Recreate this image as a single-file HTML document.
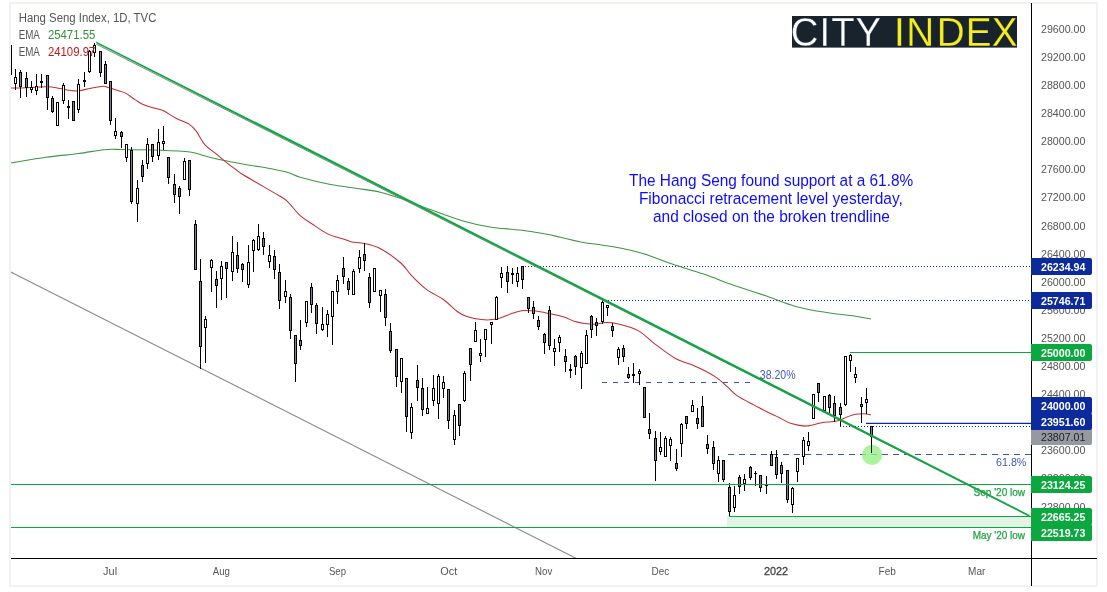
<!DOCTYPE html>
<html><head><meta charset="utf-8"><title>Hang Seng Index chart</title>
<style>html,body{margin:0;padding:0;background:#fff}svg{display:block}</style></head>
<body>
<svg width="1107" height="592" viewBox="0 0 1107 592" font-family='"Liberation Sans", sans-serif'>
<defs><clipPath id="cp"><rect x="11" y="4" width="1020" height="554"/></clipPath></defs>
<rect x="0" y="0" width="1107" height="592" fill="#fff"/>
<rect x="10" y="3" width="1087" height="583" fill="#fff" stroke="#f0f2f8" stroke-width="2"/>
<g clip-path="url(#cp)">
<line x1="10.5" y1="271.8" x2="578" y2="559.3" stroke="#8a8a8a" stroke-width="1.1"/>
<rect x="727" y="516" width="303.5" height="11.5" fill="#e2f4e6"/>
<line x1="601.9" y1="382.5" x2="750.5" y2="382.5" stroke="#3a55ba" stroke-width="1" stroke-dasharray="5.4 5.6" shape-rendering="crispEdges"/>
<line x1="728.3" y1="454.5" x2="1031" y2="454.5" stroke="#3a55ba" stroke-width="1" stroke-dasharray="5.4 5.6" shape-rendering="crispEdges"/>
<circle cx="872.1" cy="454.9" r="10.1" fill="#93f082" fill-opacity="0.78"/>
<line x1="522" y1="266.5" x2="1031" y2="266.5" stroke="#0c2a9b" stroke-width="1" stroke-dasharray="1 2" shape-rendering="crispEdges"/>
<line x1="602" y1="300.5" x2="1031" y2="300.5" stroke="#0c2a9b" stroke-width="1" stroke-dasharray="1 2" shape-rendering="crispEdges"/>
<line x1="840" y1="426.5" x2="1031" y2="426.5" stroke="#0c2a9b" stroke-width="1" stroke-dasharray="1 2" shape-rendering="crispEdges"/>
<line x1="866" y1="423.4" x2="1031" y2="423.4" stroke="#0c2a9b" stroke-width="1.3"/>
<path d="M10.5,162.9 C16.4,162.0 34.5,158.9 45.9,157.3 C57.3,155.7 69.1,154.8 78.8,153.5 C88.5,152.2 96.9,150.4 104.1,149.7 C111.3,149.0 112.5,149.4 121.8,149.5 C131.1,149.6 148.3,149.8 159.7,150.2 C171.1,150.6 182.5,151.0 190.1,152.0 C197.7,153.0 199.8,154.6 205.3,156.0 C210.8,157.4 215.8,158.8 223.0,160.3 C230.2,161.8 239.9,163.4 248.3,164.9 C256.7,166.4 267.0,167.9 273.6,169.2 C280.2,170.5 283.6,171.2 288.0,172.5 C292.4,173.8 293.1,175.2 300.2,177.2 C307.3,179.2 321.3,182.7 330.6,184.5 C339.9,186.3 347.5,187.0 355.9,188.3 C364.3,189.6 372.8,190.4 381.2,192.4 C389.6,194.4 398.1,197.6 406.5,200.5 C414.9,203.4 422.4,206.7 431.7,210.1 C441.0,213.5 452.4,217.9 462.1,220.7 C471.8,223.5 480.2,225.4 489.9,227.0 C499.6,228.6 511.0,228.9 520.3,230.1 C529.6,231.3 539.0,232.9 545.6,234.1 C552.2,235.3 554.1,235.8 560.0,237.1 C565.9,238.4 572.1,240.3 580.7,241.9 C589.3,243.5 601.2,244.6 611.4,246.5 C621.6,248.4 631.9,250.3 642.1,253.3 C652.4,256.3 662.6,260.8 672.9,264.3 C683.1,267.8 693.4,270.6 703.6,274.1 C713.8,277.6 724.1,281.9 734.3,285.5 C744.5,289.1 754.8,292.1 765.0,295.6 C775.2,299.1 785.5,303.6 795.7,306.4 C805.9,309.2 816.2,310.8 826.4,312.5 C836.6,314.2 849.7,315.4 857.1,316.5 C864.5,317.6 868.7,318.6 871.0,319.0" fill="none" stroke="#3d9743" stroke-width="1.05"/>
<path d="M11.0,88.0 C12.5,88.0 13.9,88.2 20.0,88.0 C26.1,87.8 40.8,86.6 47.5,86.7 C54.2,86.8 55.3,87.8 60.0,88.5 C64.7,89.2 70.6,90.9 75.6,90.9 C80.6,90.9 85.5,89.3 90.0,88.5 C94.5,87.7 99.6,86.4 102.6,86.2 C105.6,86.0 105.8,86.9 108.0,87.5 C110.2,88.1 113.2,89.0 116.0,89.9 C118.8,90.8 121.8,91.3 125.0,92.9 C128.2,94.5 132.2,97.8 135.0,99.6 C137.8,101.4 139.2,102.6 142.0,103.9 C144.8,105.2 148.5,106.5 152.0,107.6 C155.5,108.7 159.0,108.8 163.0,110.6 C167.0,112.4 171.7,116.0 176.0,118.2 C180.3,120.5 185.7,122.0 189.0,124.1 C192.3,126.2 193.3,127.4 196.0,130.9 C198.7,134.4 201.8,141.2 205.0,144.9 C208.2,148.6 211.7,150.2 215.0,152.9 C218.3,155.6 221.7,158.6 225.0,161.3 C228.3,164.0 231.8,166.6 235.0,168.9 C238.2,171.2 236.5,170.8 244.0,175.3 C251.5,179.9 272.7,191.8 280.0,196.2 C287.3,200.6 284.2,198.5 287.6,201.7 C291.0,204.9 296.0,211.8 300.2,215.6 C304.4,219.4 308.2,221.4 312.9,224.5 C317.5,227.6 323.1,231.7 328.1,234.1 C333.2,236.5 339.2,237.6 343.2,238.9 C347.1,240.2 348.2,241.1 351.8,241.9 C355.4,242.7 359.7,242.5 364.5,243.6 C369.3,244.7 374.4,245.5 380.5,248.7 C386.6,251.9 395.7,258.6 400.8,263.0 C405.9,267.4 406.7,270.5 410.9,274.9 C415.1,279.3 420.8,285.1 426.1,289.2 C431.5,293.3 437.7,295.5 443.0,299.3 C448.3,303.1 454.1,309.2 458.0,312.0 C461.9,314.8 462.2,314.9 466.1,316.2 C470.0,317.5 476.2,319.1 481.3,319.6 C486.4,320.1 491.4,320.1 496.5,319.1 C501.6,318.1 507.2,315.0 511.7,313.6 C516.2,312.2 519.6,311.0 523.6,310.6 C527.6,310.2 531.2,310.6 535.4,311.1 C539.6,311.6 544.1,312.6 548.9,313.6 C553.7,314.6 559.9,315.7 564.1,317.0 C568.3,318.3 570.8,320.2 574.2,321.3 C577.6,322.4 580.8,322.9 584.4,323.4 C588.0,323.9 592.4,324.3 596.0,324.2 C599.6,324.1 602.4,322.6 606.1,322.5 C609.8,322.4 612.6,322.5 618.0,323.9 C623.4,325.2 632.0,327.2 638.2,330.6 C644.4,334.0 648.9,339.5 655.1,344.1 C661.3,348.8 669.2,355.0 675.4,358.5 C681.6,362.0 687.2,362.8 692.3,364.9 C697.4,367.0 701.6,369.0 705.8,371.2 C710.0,373.4 713.9,375.6 717.6,378.3 C721.3,381.0 724.5,384.3 727.8,387.2 C731.1,390.1 733.0,392.9 737.4,395.9 C741.8,398.9 749.1,402.4 754.2,405.1 C759.3,407.8 763.6,410.2 767.8,412.3 C772.0,414.4 775.6,415.8 779.5,417.7 C783.4,419.6 786.8,422.2 791.3,423.6 C795.8,425.0 801.4,426.2 806.5,426.1 C811.6,426.0 816.6,423.6 821.7,422.8 C826.8,422.0 832.7,422.1 836.9,421.1 C841.1,420.1 844.0,418.0 847.1,416.9 C850.2,415.8 852.7,414.8 855.5,414.3 C858.3,413.8 861.4,413.7 864.0,413.8 C866.6,413.9 869.9,414.6 871.1,414.7" fill="none" stroke="#c12f2f" stroke-width="1.05"/>
<g shape-rendering="crispEdges">
<rect x="10" y="45" width="1" height="32" fill="#000"/>
<rect x="9" y="45" width="3" height="30" fill="#000"/>
<rect x="10" y="46" width="1" height="28" fill="#80838f"/>
<rect x="15" y="69" width="1" height="21" fill="#000"/>
<rect x="14" y="77" width="3" height="7" fill="#000"/>
<rect x="15" y="78" width="1" height="5" fill="#fff"/>
<rect x="20" y="70" width="1" height="28" fill="#000"/>
<rect x="19" y="72" width="3" height="15" fill="#000"/>
<rect x="20" y="73" width="1" height="13" fill="#80838f"/>
<rect x="26" y="72" width="1" height="25" fill="#000"/>
<rect x="25" y="78" width="3" height="10" fill="#000"/>
<rect x="26" y="79" width="1" height="8" fill="#80838f"/>
<rect x="31" y="81" width="1" height="12" fill="#000"/>
<rect x="30" y="87" width="3" height="3" fill="#000"/>
<rect x="31" y="88" width="1" height="1" fill="#fff"/>
<rect x="36" y="74" width="1" height="21" fill="#000"/>
<rect x="35" y="86" width="3" height="5" fill="#000"/>
<rect x="36" y="87" width="1" height="3" fill="#fff"/>
<rect x="41" y="74" width="1" height="14" fill="#000"/>
<rect x="40" y="81" width="3" height="2" fill="#000"/>
<rect x="47" y="75" width="1" height="35" fill="#000"/>
<rect x="46" y="75" width="3" height="23" fill="#000"/>
<rect x="47" y="76" width="1" height="21" fill="#80838f"/>
<rect x="52" y="96" width="1" height="17" fill="#000"/>
<rect x="51" y="98" width="3" height="14" fill="#000"/>
<rect x="52" y="99" width="1" height="12" fill="#80838f"/>
<rect x="57" y="102" width="1" height="24" fill="#000"/>
<rect x="56" y="102" width="3" height="24" fill="#000"/>
<rect x="57" y="103" width="1" height="22" fill="#fff"/>
<rect x="63" y="83" width="1" height="21" fill="#000"/>
<rect x="62" y="85" width="3" height="16" fill="#000"/>
<rect x="63" y="86" width="1" height="14" fill="#fff"/>
<rect x="68" y="100" width="1" height="19" fill="#000"/>
<rect x="67" y="106" width="3" height="2" fill="#000"/>
<rect x="73" y="101" width="1" height="20" fill="#000"/>
<rect x="72" y="101" width="3" height="20" fill="#000"/>
<rect x="73" y="102" width="1" height="18" fill="#80838f"/>
<rect x="78" y="79" width="1" height="34" fill="#000"/>
<rect x="77" y="84" width="3" height="26" fill="#000"/>
<rect x="78" y="85" width="1" height="24" fill="#fff"/>
<rect x="84" y="72" width="1" height="15" fill="#000"/>
<rect x="83" y="80" width="3" height="2" fill="#000"/>
<rect x="89" y="50" width="1" height="23" fill="#000"/>
<rect x="88" y="51" width="3" height="21" fill="#000"/>
<rect x="89" y="52" width="1" height="19" fill="#fff"/>
<rect x="94" y="43" width="1" height="14" fill="#000"/>
<rect x="93" y="45" width="3" height="8" fill="#000"/>
<rect x="94" y="46" width="1" height="6" fill="#fff"/>
<rect x="100" y="51" width="1" height="26" fill="#000"/>
<rect x="99" y="51" width="3" height="22" fill="#000"/>
<rect x="100" y="52" width="1" height="20" fill="#80838f"/>
<rect x="105" y="61" width="1" height="23" fill="#000"/>
<rect x="104" y="64" width="3" height="20" fill="#000"/>
<rect x="105" y="65" width="1" height="18" fill="#80838f"/>
<rect x="110" y="81" width="1" height="44" fill="#000"/>
<rect x="109" y="81" width="3" height="40" fill="#000"/>
<rect x="110" y="82" width="1" height="38" fill="#80838f"/>
<rect x="115" y="118" width="1" height="21" fill="#000"/>
<rect x="114" y="131" width="3" height="5" fill="#000"/>
<rect x="115" y="132" width="1" height="3" fill="#fff"/>
<rect x="121" y="131" width="1" height="17" fill="#000"/>
<rect x="120" y="132" width="3" height="5" fill="#000"/>
<rect x="121" y="133" width="1" height="3" fill="#80838f"/>
<rect x="126" y="144" width="1" height="18" fill="#000"/>
<rect x="125" y="144" width="3" height="14" fill="#000"/>
<rect x="126" y="145" width="1" height="12" fill="#fff"/>
<rect x="131" y="147" width="1" height="57" fill="#000"/>
<rect x="130" y="150" width="3" height="52" fill="#000"/>
<rect x="131" y="151" width="1" height="50" fill="#80838f"/>
<rect x="137" y="180" width="1" height="42" fill="#000"/>
<rect x="136" y="188" width="3" height="16" fill="#000"/>
<rect x="137" y="189" width="1" height="14" fill="#fff"/>
<rect x="142" y="160" width="1" height="22" fill="#000"/>
<rect x="141" y="165" width="3" height="12" fill="#000"/>
<rect x="142" y="166" width="1" height="10" fill="#80838f"/>
<rect x="147" y="138" width="1" height="31" fill="#000"/>
<rect x="146" y="144" width="3" height="20" fill="#000"/>
<rect x="147" y="145" width="1" height="18" fill="#fff"/>
<rect x="152" y="144" width="1" height="18" fill="#000"/>
<rect x="151" y="144" width="3" height="13" fill="#000"/>
<rect x="152" y="145" width="1" height="11" fill="#80838f"/>
<rect x="158" y="129" width="1" height="31" fill="#000"/>
<rect x="157" y="142" width="3" height="14" fill="#000"/>
<rect x="158" y="143" width="1" height="12" fill="#fff"/>
<rect x="163" y="126" width="1" height="24" fill="#000"/>
<rect x="162" y="141" width="3" height="3" fill="#000"/>
<rect x="163" y="142" width="1" height="1" fill="#fff"/>
<rect x="168" y="157" width="1" height="27" fill="#000"/>
<rect x="167" y="157" width="3" height="21" fill="#000"/>
<rect x="168" y="158" width="1" height="19" fill="#80838f"/>
<rect x="174" y="174" width="1" height="29" fill="#000"/>
<rect x="173" y="184" width="3" height="11" fill="#000"/>
<rect x="174" y="185" width="1" height="9" fill="#80838f"/>
<rect x="179" y="186" width="1" height="28" fill="#000"/>
<rect x="178" y="188" width="3" height="9" fill="#000"/>
<rect x="179" y="189" width="1" height="7" fill="#80838f"/>
<rect x="184" y="158" width="1" height="22" fill="#000"/>
<rect x="183" y="161" width="3" height="19" fill="#000"/>
<rect x="184" y="162" width="1" height="17" fill="#fff"/>
<rect x="189" y="160" width="1" height="36" fill="#000"/>
<rect x="188" y="160" width="3" height="30" fill="#000"/>
<rect x="189" y="161" width="1" height="28" fill="#80838f"/>
<rect x="195" y="220" width="1" height="50" fill="#000"/>
<rect x="194" y="224" width="3" height="46" fill="#000"/>
<rect x="195" y="225" width="1" height="44" fill="#80838f"/>
<rect x="200" y="259" width="1" height="110" fill="#000"/>
<rect x="199" y="281" width="3" height="66" fill="#000"/>
<rect x="200" y="282" width="1" height="64" fill="#80838f"/>
<rect x="205" y="316" width="1" height="47" fill="#000"/>
<rect x="204" y="319" width="3" height="9" fill="#000"/>
<rect x="205" y="320" width="1" height="7" fill="#fff"/>
<rect x="211" y="259" width="1" height="33" fill="#000"/>
<rect x="210" y="260" width="3" height="8" fill="#000"/>
<rect x="211" y="261" width="1" height="6" fill="#fff"/>
<rect x="216" y="271" width="1" height="37" fill="#000"/>
<rect x="215" y="279" width="3" height="7" fill="#000"/>
<rect x="216" y="280" width="1" height="5" fill="#80838f"/>
<rect x="221" y="261" width="1" height="39" fill="#000"/>
<rect x="220" y="266" width="3" height="13" fill="#000"/>
<rect x="221" y="267" width="1" height="11" fill="#fff"/>
<rect x="226" y="262" width="1" height="36" fill="#000"/>
<rect x="225" y="262" width="3" height="7" fill="#000"/>
<rect x="226" y="263" width="1" height="5" fill="#80838f"/>
<rect x="232" y="236" width="1" height="45" fill="#000"/>
<rect x="231" y="252" width="3" height="20" fill="#000"/>
<rect x="232" y="253" width="1" height="18" fill="#fff"/>
<rect x="237" y="242" width="1" height="31" fill="#000"/>
<rect x="236" y="255" width="3" height="14" fill="#000"/>
<rect x="237" y="256" width="1" height="12" fill="#80838f"/>
<rect x="242" y="263" width="1" height="19" fill="#000"/>
<rect x="241" y="264" width="3" height="6" fill="#000"/>
<rect x="242" y="265" width="1" height="4" fill="#80838f"/>
<rect x="248" y="245" width="1" height="43" fill="#000"/>
<rect x="247" y="262" width="3" height="23" fill="#000"/>
<rect x="248" y="263" width="1" height="21" fill="#fff"/>
<rect x="253" y="239" width="1" height="33" fill="#000"/>
<rect x="252" y="240" width="3" height="11" fill="#000"/>
<rect x="253" y="241" width="1" height="9" fill="#fff"/>
<rect x="258" y="224" width="1" height="27" fill="#000"/>
<rect x="257" y="236" width="3" height="14" fill="#000"/>
<rect x="258" y="237" width="1" height="12" fill="#fff"/>
<rect x="263" y="232" width="1" height="23" fill="#000"/>
<rect x="262" y="238" width="3" height="9" fill="#000"/>
<rect x="263" y="239" width="1" height="7" fill="#80838f"/>
<rect x="269" y="245" width="1" height="23" fill="#000"/>
<rect x="268" y="255" width="3" height="7" fill="#000"/>
<rect x="269" y="256" width="1" height="5" fill="#fff"/>
<rect x="274" y="250" width="1" height="29" fill="#000"/>
<rect x="273" y="256" width="3" height="14" fill="#000"/>
<rect x="274" y="257" width="1" height="12" fill="#80838f"/>
<rect x="279" y="264" width="1" height="45" fill="#000"/>
<rect x="278" y="272" width="3" height="29" fill="#000"/>
<rect x="279" y="273" width="1" height="27" fill="#80838f"/>
<rect x="285" y="280" width="1" height="23" fill="#000"/>
<rect x="284" y="291" width="3" height="6" fill="#000"/>
<rect x="285" y="292" width="1" height="4" fill="#fff"/>
<rect x="290" y="294" width="1" height="45" fill="#000"/>
<rect x="289" y="297" width="3" height="34" fill="#000"/>
<rect x="290" y="298" width="1" height="32" fill="#80838f"/>
<rect x="295" y="335" width="1" height="47" fill="#000"/>
<rect x="294" y="335" width="3" height="29" fill="#000"/>
<rect x="295" y="336" width="1" height="27" fill="#80838f"/>
<rect x="300" y="320" width="1" height="30" fill="#000"/>
<rect x="299" y="340" width="3" height="6" fill="#000"/>
<rect x="300" y="341" width="1" height="4" fill="#80838f"/>
<rect x="306" y="301" width="1" height="26" fill="#000"/>
<rect x="305" y="301" width="3" height="22" fill="#000"/>
<rect x="306" y="302" width="1" height="20" fill="#fff"/>
<rect x="311" y="283" width="1" height="30" fill="#000"/>
<rect x="310" y="287" width="3" height="18" fill="#000"/>
<rect x="311" y="288" width="1" height="16" fill="#80838f"/>
<rect x="316" y="303" width="1" height="31" fill="#000"/>
<rect x="315" y="305" width="3" height="19" fill="#000"/>
<rect x="316" y="306" width="1" height="17" fill="#80838f"/>
<rect x="322" y="307" width="1" height="24" fill="#000"/>
<rect x="321" y="324" width="3" height="6" fill="#000"/>
<rect x="322" y="325" width="1" height="4" fill="#fff"/>
<rect x="327" y="310" width="1" height="27" fill="#000"/>
<rect x="326" y="314" width="3" height="11" fill="#000"/>
<rect x="327" y="315" width="1" height="9" fill="#fff"/>
<rect x="332" y="291" width="1" height="54" fill="#000"/>
<rect x="331" y="291" width="3" height="26" fill="#000"/>
<rect x="332" y="292" width="1" height="24" fill="#fff"/>
<rect x="337" y="275" width="1" height="29" fill="#000"/>
<rect x="336" y="280" width="3" height="12" fill="#000"/>
<rect x="337" y="281" width="1" height="10" fill="#fff"/>
<rect x="343" y="257" width="1" height="27" fill="#000"/>
<rect x="342" y="268" width="3" height="9" fill="#000"/>
<rect x="343" y="269" width="1" height="7" fill="#80838f"/>
<rect x="348" y="278" width="1" height="17" fill="#000"/>
<rect x="347" y="281" width="3" height="9" fill="#000"/>
<rect x="348" y="282" width="1" height="7" fill="#80838f"/>
<rect x="353" y="269" width="1" height="26" fill="#000"/>
<rect x="352" y="271" width="3" height="24" fill="#000"/>
<rect x="353" y="272" width="1" height="22" fill="#fff"/>
<rect x="359" y="250" width="1" height="23" fill="#000"/>
<rect x="358" y="257" width="3" height="12" fill="#000"/>
<rect x="359" y="258" width="1" height="10" fill="#fff"/>
<rect x="364" y="243" width="1" height="28" fill="#000"/>
<rect x="363" y="254" width="3" height="7" fill="#000"/>
<rect x="364" y="255" width="1" height="5" fill="#80838f"/>
<rect x="369" y="273" width="1" height="35" fill="#000"/>
<rect x="368" y="277" width="3" height="26" fill="#000"/>
<rect x="369" y="278" width="1" height="24" fill="#80838f"/>
<rect x="374" y="268" width="1" height="24" fill="#000"/>
<rect x="373" y="268" width="3" height="24" fill="#000"/>
<rect x="374" y="269" width="1" height="22" fill="#fff"/>
<rect x="380" y="290" width="1" height="22" fill="#000"/>
<rect x="379" y="290" width="3" height="6" fill="#000"/>
<rect x="380" y="291" width="1" height="4" fill="#fff"/>
<rect x="385" y="289" width="1" height="37" fill="#000"/>
<rect x="384" y="294" width="3" height="24" fill="#000"/>
<rect x="385" y="295" width="1" height="22" fill="#80838f"/>
<rect x="390" y="323" width="1" height="30" fill="#000"/>
<rect x="389" y="331" width="3" height="20" fill="#000"/>
<rect x="390" y="332" width="1" height="18" fill="#80838f"/>
<rect x="396" y="349" width="1" height="38" fill="#000"/>
<rect x="395" y="349" width="3" height="28" fill="#000"/>
<rect x="396" y="350" width="1" height="26" fill="#80838f"/>
<rect x="401" y="358" width="1" height="35" fill="#000"/>
<rect x="400" y="358" width="3" height="24" fill="#000"/>
<rect x="401" y="359" width="1" height="22" fill="#fff"/>
<rect x="406" y="378" width="1" height="54" fill="#000"/>
<rect x="405" y="378" width="3" height="39" fill="#000"/>
<rect x="406" y="379" width="1" height="37" fill="#80838f"/>
<rect x="411" y="403" width="1" height="36" fill="#000"/>
<rect x="410" y="407" width="3" height="26" fill="#000"/>
<rect x="411" y="408" width="1" height="24" fill="#fff"/>
<rect x="417" y="365" width="1" height="36" fill="#000"/>
<rect x="416" y="380" width="3" height="8" fill="#000"/>
<rect x="417" y="381" width="1" height="6" fill="#80838f"/>
<rect x="422" y="378" width="1" height="38" fill="#000"/>
<rect x="421" y="388" width="3" height="22" fill="#000"/>
<rect x="422" y="389" width="1" height="20" fill="#80838f"/>
<rect x="427" y="387" width="1" height="27" fill="#000"/>
<rect x="426" y="408" width="3" height="6" fill="#000"/>
<rect x="427" y="409" width="1" height="4" fill="#fff"/>
<rect x="433" y="375" width="1" height="31" fill="#000"/>
<rect x="432" y="388" width="3" height="13" fill="#000"/>
<rect x="433" y="389" width="1" height="11" fill="#fff"/>
<rect x="438" y="374" width="1" height="45" fill="#000"/>
<rect x="437" y="376" width="3" height="28" fill="#000"/>
<rect x="438" y="377" width="1" height="26" fill="#fff"/>
<rect x="443" y="376" width="1" height="22" fill="#000"/>
<rect x="442" y="382" width="3" height="7" fill="#000"/>
<rect x="443" y="383" width="1" height="5" fill="#fff"/>
<rect x="448" y="389" width="1" height="40" fill="#000"/>
<rect x="447" y="389" width="3" height="32" fill="#000"/>
<rect x="448" y="390" width="1" height="30" fill="#80838f"/>
<rect x="454" y="410" width="1" height="35" fill="#000"/>
<rect x="453" y="415" width="3" height="25" fill="#000"/>
<rect x="454" y="416" width="1" height="23" fill="#fff"/>
<rect x="459" y="404" width="1" height="32" fill="#000"/>
<rect x="458" y="404" width="3" height="22" fill="#000"/>
<rect x="459" y="405" width="1" height="20" fill="#80838f"/>
<rect x="464" y="371" width="1" height="31" fill="#000"/>
<rect x="463" y="373" width="3" height="28" fill="#000"/>
<rect x="464" y="374" width="1" height="26" fill="#fff"/>
<rect x="470" y="348" width="1" height="33" fill="#000"/>
<rect x="469" y="348" width="3" height="17" fill="#000"/>
<rect x="470" y="349" width="1" height="15" fill="#80838f"/>
<rect x="475" y="322" width="1" height="20" fill="#000"/>
<rect x="474" y="330" width="3" height="12" fill="#000"/>
<rect x="475" y="331" width="1" height="10" fill="#fff"/>
<rect x="480" y="339" width="1" height="23" fill="#000"/>
<rect x="479" y="353" width="3" height="3" fill="#000"/>
<rect x="480" y="354" width="1" height="1" fill="#fff"/>
<rect x="485" y="329" width="1" height="28" fill="#000"/>
<rect x="484" y="329" width="3" height="11" fill="#000"/>
<rect x="485" y="330" width="1" height="9" fill="#fff"/>
<rect x="491" y="322" width="1" height="22" fill="#000"/>
<rect x="490" y="322" width="3" height="3" fill="#000"/>
<rect x="491" y="323" width="1" height="1" fill="#fff"/>
<rect x="496" y="296" width="1" height="24" fill="#000"/>
<rect x="495" y="297" width="3" height="23" fill="#000"/>
<rect x="496" y="298" width="1" height="21" fill="#fff"/>
<rect x="501" y="267" width="1" height="21" fill="#000"/>
<rect x="500" y="273" width="3" height="5" fill="#000"/>
<rect x="501" y="274" width="1" height="3" fill="#fff"/>
<rect x="507" y="266" width="1" height="27" fill="#000"/>
<rect x="506" y="272" width="3" height="10" fill="#000"/>
<rect x="507" y="273" width="1" height="8" fill="#80838f"/>
<rect x="512" y="268" width="1" height="16" fill="#000"/>
<rect x="511" y="273" width="3" height="2" fill="#000"/>
<rect x="517" y="267" width="1" height="20" fill="#000"/>
<rect x="516" y="273" width="3" height="9" fill="#000"/>
<rect x="517" y="274" width="1" height="7" fill="#fff"/>
<rect x="522" y="266" width="1" height="23" fill="#000"/>
<rect x="521" y="266" width="3" height="14" fill="#000"/>
<rect x="522" y="267" width="1" height="12" fill="#80838f"/>
<rect x="528" y="297" width="1" height="16" fill="#000"/>
<rect x="527" y="297" width="3" height="12" fill="#000"/>
<rect x="528" y="298" width="1" height="10" fill="#80838f"/>
<rect x="533" y="301" width="1" height="18" fill="#000"/>
<rect x="532" y="307" width="3" height="7" fill="#000"/>
<rect x="533" y="308" width="1" height="5" fill="#80838f"/>
<rect x="538" y="316" width="1" height="14" fill="#000"/>
<rect x="537" y="320" width="3" height="7" fill="#000"/>
<rect x="538" y="321" width="1" height="5" fill="#80838f"/>
<rect x="544" y="333" width="1" height="21" fill="#000"/>
<rect x="543" y="334" width="3" height="9" fill="#000"/>
<rect x="544" y="335" width="1" height="7" fill="#80838f"/>
<rect x="549" y="306" width="1" height="44" fill="#000"/>
<rect x="548" y="310" width="3" height="36" fill="#000"/>
<rect x="549" y="311" width="1" height="34" fill="#80838f"/>
<rect x="554" y="339" width="1" height="27" fill="#000"/>
<rect x="553" y="348" width="3" height="4" fill="#000"/>
<rect x="554" y="349" width="1" height="2" fill="#fff"/>
<rect x="559" y="335" width="1" height="17" fill="#000"/>
<rect x="558" y="337" width="3" height="6" fill="#000"/>
<rect x="559" y="338" width="1" height="4" fill="#fff"/>
<rect x="565" y="349" width="1" height="23" fill="#000"/>
<rect x="564" y="356" width="3" height="6" fill="#000"/>
<rect x="565" y="357" width="1" height="4" fill="#80838f"/>
<rect x="570" y="364" width="1" height="14" fill="#000"/>
<rect x="569" y="369" width="3" height="2" fill="#000"/>
<rect x="575" y="355" width="1" height="20" fill="#000"/>
<rect x="574" y="356" width="3" height="11" fill="#000"/>
<rect x="575" y="357" width="1" height="9" fill="#80838f"/>
<rect x="581" y="351" width="1" height="38" fill="#000"/>
<rect x="580" y="353" width="3" height="15" fill="#000"/>
<rect x="581" y="354" width="1" height="13" fill="#fff"/>
<rect x="586" y="330" width="1" height="34" fill="#000"/>
<rect x="585" y="335" width="3" height="29" fill="#000"/>
<rect x="586" y="336" width="1" height="27" fill="#fff"/>
<rect x="591" y="315" width="1" height="23" fill="#000"/>
<rect x="590" y="316" width="3" height="14" fill="#000"/>
<rect x="591" y="317" width="1" height="12" fill="#80838f"/>
<rect x="596" y="318" width="1" height="18" fill="#000"/>
<rect x="595" y="322" width="3" height="4" fill="#000"/>
<rect x="596" y="323" width="1" height="2" fill="#80838f"/>
<rect x="602" y="300" width="1" height="24" fill="#000"/>
<rect x="601" y="302" width="3" height="20" fill="#000"/>
<rect x="602" y="303" width="1" height="18" fill="#fff"/>
<rect x="607" y="305" width="1" height="11" fill="#000"/>
<rect x="606" y="305" width="3" height="3" fill="#000"/>
<rect x="607" y="306" width="1" height="1" fill="#fff"/>
<rect x="612" y="323" width="1" height="14" fill="#000"/>
<rect x="611" y="326" width="3" height="5" fill="#000"/>
<rect x="612" y="327" width="1" height="3" fill="#80838f"/>
<rect x="618" y="347" width="1" height="18" fill="#000"/>
<rect x="617" y="349" width="3" height="9" fill="#000"/>
<rect x="618" y="350" width="1" height="7" fill="#fff"/>
<rect x="623" y="345" width="1" height="17" fill="#000"/>
<rect x="622" y="348" width="3" height="9" fill="#000"/>
<rect x="623" y="349" width="1" height="7" fill="#80838f"/>
<rect x="628" y="367" width="1" height="12" fill="#000"/>
<rect x="627" y="374" width="3" height="4" fill="#000"/>
<rect x="628" y="375" width="1" height="2" fill="#80838f"/>
<rect x="633" y="363" width="1" height="20" fill="#000"/>
<rect x="632" y="374" width="3" height="2" fill="#000"/>
<rect x="639" y="369" width="1" height="16" fill="#000"/>
<rect x="638" y="371" width="3" height="3" fill="#000"/>
<rect x="639" y="372" width="1" height="1" fill="#fff"/>
<rect x="644" y="387" width="1" height="31" fill="#000"/>
<rect x="643" y="387" width="3" height="31" fill="#000"/>
<rect x="644" y="388" width="1" height="29" fill="#80838f"/>
<rect x="649" y="413" width="1" height="26" fill="#000"/>
<rect x="648" y="429" width="3" height="5" fill="#000"/>
<rect x="649" y="430" width="1" height="3" fill="#80838f"/>
<rect x="655" y="431" width="1" height="50" fill="#000"/>
<rect x="654" y="438" width="3" height="23" fill="#000"/>
<rect x="655" y="439" width="1" height="21" fill="#80838f"/>
<rect x="660" y="432" width="1" height="23" fill="#000"/>
<rect x="659" y="447" width="3" height="5" fill="#000"/>
<rect x="660" y="448" width="1" height="3" fill="#fff"/>
<rect x="665" y="436" width="1" height="21" fill="#000"/>
<rect x="664" y="438" width="3" height="19" fill="#000"/>
<rect x="665" y="439" width="1" height="17" fill="#fff"/>
<rect x="670" y="437" width="1" height="24" fill="#000"/>
<rect x="669" y="439" width="3" height="7" fill="#000"/>
<rect x="670" y="440" width="1" height="5" fill="#fff"/>
<rect x="676" y="449" width="1" height="22" fill="#000"/>
<rect x="675" y="463" width="3" height="6" fill="#000"/>
<rect x="676" y="464" width="1" height="4" fill="#80838f"/>
<rect x="681" y="423" width="1" height="34" fill="#000"/>
<rect x="680" y="424" width="3" height="20" fill="#000"/>
<rect x="681" y="425" width="1" height="18" fill="#fff"/>
<rect x="686" y="416" width="1" height="13" fill="#000"/>
<rect x="685" y="416" width="3" height="8" fill="#000"/>
<rect x="686" y="417" width="1" height="6" fill="#80838f"/>
<rect x="692" y="400" width="1" height="12" fill="#000"/>
<rect x="691" y="405" width="3" height="7" fill="#000"/>
<rect x="692" y="406" width="1" height="5" fill="#fff"/>
<rect x="697" y="408" width="1" height="21" fill="#000"/>
<rect x="696" y="418" width="3" height="6" fill="#000"/>
<rect x="697" y="419" width="1" height="4" fill="#80838f"/>
<rect x="702" y="396" width="1" height="31" fill="#000"/>
<rect x="701" y="406" width="3" height="21" fill="#000"/>
<rect x="702" y="407" width="1" height="19" fill="#80838f"/>
<rect x="707" y="435" width="1" height="19" fill="#000"/>
<rect x="706" y="444" width="3" height="5" fill="#000"/>
<rect x="707" y="445" width="1" height="3" fill="#80838f"/>
<rect x="713" y="441" width="1" height="29" fill="#000"/>
<rect x="712" y="447" width="3" height="17" fill="#000"/>
<rect x="713" y="448" width="1" height="15" fill="#80838f"/>
<rect x="718" y="456" width="1" height="26" fill="#000"/>
<rect x="717" y="460" width="3" height="14" fill="#000"/>
<rect x="718" y="461" width="1" height="12" fill="#fff"/>
<rect x="723" y="460" width="1" height="22" fill="#000"/>
<rect x="722" y="460" width="3" height="20" fill="#000"/>
<rect x="723" y="461" width="1" height="18" fill="#80838f"/>
<rect x="729" y="483" width="1" height="33" fill="#000"/>
<rect x="728" y="487" width="3" height="25" fill="#000"/>
<rect x="729" y="488" width="1" height="23" fill="#80838f"/>
<rect x="734" y="486" width="1" height="26" fill="#000"/>
<rect x="733" y="495" width="3" height="13" fill="#000"/>
<rect x="734" y="496" width="1" height="11" fill="#fff"/>
<rect x="739" y="475" width="1" height="19" fill="#000"/>
<rect x="738" y="477" width="3" height="10" fill="#000"/>
<rect x="739" y="478" width="1" height="8" fill="#80838f"/>
<rect x="744" y="474" width="1" height="17" fill="#000"/>
<rect x="743" y="479" width="3" height="5" fill="#000"/>
<rect x="744" y="480" width="1" height="3" fill="#fff"/>
<rect x="750" y="466" width="1" height="14" fill="#000"/>
<rect x="749" y="467" width="3" height="11" fill="#000"/>
<rect x="750" y="468" width="1" height="9" fill="#80838f"/>
<rect x="755" y="471" width="1" height="15" fill="#000"/>
<rect x="754" y="473" width="3" height="1" fill="#000"/>
<rect x="760" y="475" width="1" height="17" fill="#000"/>
<rect x="759" y="475" width="3" height="13" fill="#000"/>
<rect x="760" y="476" width="1" height="11" fill="#80838f"/>
<rect x="766" y="476" width="1" height="18" fill="#000"/>
<rect x="765" y="485" width="3" height="1" fill="#000"/>
<rect x="771" y="451" width="1" height="15" fill="#000"/>
<rect x="770" y="454" width="3" height="12" fill="#000"/>
<rect x="771" y="455" width="1" height="10" fill="#80838f"/>
<rect x="776" y="450" width="1" height="29" fill="#000"/>
<rect x="775" y="457" width="3" height="18" fill="#000"/>
<rect x="776" y="458" width="1" height="16" fill="#80838f"/>
<rect x="781" y="462" width="1" height="21" fill="#000"/>
<rect x="780" y="465" width="3" height="9" fill="#000"/>
<rect x="781" y="466" width="1" height="7" fill="#80838f"/>
<rect x="787" y="470" width="1" height="33" fill="#000"/>
<rect x="786" y="470" width="3" height="30" fill="#000"/>
<rect x="787" y="471" width="1" height="28" fill="#80838f"/>
<rect x="792" y="487" width="1" height="26" fill="#000"/>
<rect x="791" y="488" width="3" height="17" fill="#000"/>
<rect x="792" y="489" width="1" height="15" fill="#fff"/>
<rect x="797" y="458" width="1" height="24" fill="#000"/>
<rect x="796" y="458" width="3" height="14" fill="#000"/>
<rect x="797" y="459" width="1" height="12" fill="#fff"/>
<rect x="803" y="437" width="1" height="28" fill="#000"/>
<rect x="802" y="440" width="3" height="17" fill="#000"/>
<rect x="803" y="441" width="1" height="15" fill="#fff"/>
<rect x="808" y="432" width="1" height="19" fill="#000"/>
<rect x="807" y="441" width="3" height="5" fill="#000"/>
<rect x="808" y="442" width="1" height="3" fill="#fff"/>
<rect x="813" y="394" width="1" height="25" fill="#000"/>
<rect x="812" y="394" width="3" height="25" fill="#000"/>
<rect x="813" y="395" width="1" height="23" fill="#fff"/>
<rect x="818" y="383" width="1" height="19" fill="#000"/>
<rect x="817" y="383" width="3" height="10" fill="#000"/>
<rect x="818" y="384" width="1" height="8" fill="#80838f"/>
<rect x="824" y="396" width="1" height="15" fill="#000"/>
<rect x="823" y="396" width="3" height="15" fill="#000"/>
<rect x="824" y="397" width="1" height="13" fill="#fff"/>
<rect x="829" y="394" width="1" height="19" fill="#000"/>
<rect x="828" y="395" width="3" height="13" fill="#000"/>
<rect x="829" y="396" width="1" height="11" fill="#80838f"/>
<rect x="834" y="396" width="1" height="26" fill="#000"/>
<rect x="833" y="403" width="3" height="13" fill="#000"/>
<rect x="834" y="404" width="1" height="11" fill="#80838f"/>
<rect x="840" y="403" width="1" height="23" fill="#000"/>
<rect x="839" y="407" width="3" height="8" fill="#000"/>
<rect x="840" y="408" width="1" height="6" fill="#80838f"/>
<rect x="845" y="356" width="1" height="50" fill="#000"/>
<rect x="844" y="356" width="3" height="49" fill="#000"/>
<rect x="845" y="357" width="1" height="47" fill="#fff"/>
<rect x="850" y="354" width="1" height="18" fill="#000"/>
<rect x="849" y="355" width="3" height="6" fill="#000"/>
<rect x="850" y="356" width="1" height="4" fill="#fff"/>
<rect x="855" y="367" width="1" height="16" fill="#000"/>
<rect x="854" y="374" width="3" height="4" fill="#000"/>
<rect x="855" y="375" width="1" height="2" fill="#fff"/>
<rect x="861" y="397" width="1" height="26" fill="#000"/>
<rect x="860" y="404" width="3" height="3" fill="#000"/>
<rect x="861" y="405" width="1" height="1" fill="#80838f"/>
<rect x="866" y="388" width="1" height="26" fill="#000"/>
<rect x="865" y="399" width="3" height="4" fill="#000"/>
<rect x="866" y="400" width="1" height="2" fill="#fff"/>
<rect x="871" y="426" width="1" height="27" fill="#000"/>
<rect x="870" y="426" width="3" height="11" fill="#000"/>
<rect x="871" y="427" width="1" height="9" fill="#80838f"/>
</g>
<g shape-rendering="crispEdges" fill="#0aa83e">
<rect x="11" y="484" width="1020" height="1"/>
<rect x="11" y="527" width="1020" height="1"/>
<rect x="729" y="516" width="302" height="1"/>
<rect x="850" y="352" width="181" height="1"/>
</g>
<line x1="96.2" y1="44.10" x2="1029.6" y2="516.40" stroke="#868686" stroke-width="1"/>
<polygon points="95.60,41.20 300.00,144.33 700.00,347.33 800.00,398.08 900.00,448.88 1029.60,514.95 1029.60,516.65 900.00,451.18 800.00,400.48 700.00,349.73 300.00,146.73 96.80,43.60" fill="#0aa83e"/>
</g>
<g shape-rendering="crispEdges" fill="#000">
<rect x="1031" y="3" width="1" height="583"/>
<rect x="11" y="558" width="1086" height="1"/>
</g>
<g font-size="11" fill="#555">
<text x="1041" y="32.8" textLength="44.4" lengthAdjust="spacingAndGlyphs">29600.00</text>
<text x="1041" y="60.9" textLength="44.4" lengthAdjust="spacingAndGlyphs">29200.00</text>
<text x="1041" y="89.0" textLength="44.4" lengthAdjust="spacingAndGlyphs">28800.00</text>
<text x="1041" y="117.1" textLength="44.4" lengthAdjust="spacingAndGlyphs">28400.00</text>
<text x="1041" y="145.2" textLength="44.4" lengthAdjust="spacingAndGlyphs">28000.00</text>
<text x="1041" y="173.3" textLength="44.4" lengthAdjust="spacingAndGlyphs">27600.00</text>
<text x="1041" y="201.4" textLength="44.4" lengthAdjust="spacingAndGlyphs">27200.00</text>
<text x="1041" y="229.5" textLength="44.4" lengthAdjust="spacingAndGlyphs">26800.00</text>
<text x="1041" y="257.6" textLength="44.4" lengthAdjust="spacingAndGlyphs">26400.00</text>
<text x="1041" y="285.7" textLength="44.4" lengthAdjust="spacingAndGlyphs">26000.00</text>
<text x="1041" y="313.8" textLength="44.4" lengthAdjust="spacingAndGlyphs">25600.00</text>
<text x="1041" y="341.9" textLength="44.4" lengthAdjust="spacingAndGlyphs">25200.00</text>
<text x="1041" y="370.0" textLength="44.4" lengthAdjust="spacingAndGlyphs">24800.00</text>
<text x="1041" y="398.1" textLength="44.4" lengthAdjust="spacingAndGlyphs">24400.00</text>
<text x="1041" y="426.2" textLength="44.4" lengthAdjust="spacingAndGlyphs">24000.00</text>
<text x="1041" y="454.3" textLength="44.4" lengthAdjust="spacingAndGlyphs">23600.00</text>
<text x="1041" y="482.4" textLength="44.4" lengthAdjust="spacingAndGlyphs">23200.00</text>
<text x="1041" y="510.5" textLength="44.4" lengthAdjust="spacingAndGlyphs">22800.00</text>
</g>
<g font-size="11.5" fill="#555" text-anchor="middle">
<text x="110.1" y="575.3" textLength="14" lengthAdjust="spacingAndGlyphs">Jul</text>
<text x="221.3" y="575.3" textLength="17.2" lengthAdjust="spacingAndGlyphs">Aug</text>
<text x="337.5" y="575.3" textLength="17" lengthAdjust="spacingAndGlyphs">Sep</text>
<text x="448.7" y="575.3" textLength="17" lengthAdjust="spacingAndGlyphs">Oct</text>
<text x="543.7" y="575.3" textLength="17.2" lengthAdjust="spacingAndGlyphs">Nov</text>
<text x="660.3" y="575.3" textLength="17.7" lengthAdjust="spacingAndGlyphs">Dec</text>
<text x="887.3" y="575.3" textLength="17.4" lengthAdjust="spacingAndGlyphs">Feb</text>
<text x="976.7" y="575.3" textLength="17.2" lengthAdjust="spacingAndGlyphs">Mar</text>
<text x="776" y="575.3" textLength="24.1" lengthAdjust="spacingAndGlyphs" fill="#444" stroke="#444" stroke-width="0.3">2022</text>
</g>
<path d="M1031,258 H1090 a2,2 0 0 1 2,2 V273 a2,2 0 0 1 -2,2 H1031 Z" fill="#0c2a9b"/>
<text x="1041" y="270.7" font-size="11" fill="#fff" font-weight="bold" textLength="44.4" lengthAdjust="spacingAndGlyphs">26234.94</text>
<path d="M1031,292 H1090 a2,2 0 0 1 2,2 V307 a2,2 0 0 1 -2,2 H1031 Z" fill="#0c2a9b"/>
<text x="1041" y="304.7" font-size="11" fill="#fff" font-weight="bold" textLength="44.4" lengthAdjust="spacingAndGlyphs">25746.71</text>
<path d="M1031,344 H1090 a2,2 0 0 1 2,2 V359 a2,2 0 0 1 -2,2 H1031 Z" fill="#0aa83e"/>
<text x="1041" y="356.7" font-size="11" fill="#fff" font-weight="bold" textLength="44.4" lengthAdjust="spacingAndGlyphs">25000.00</text>
<path d="M1031,428 H1090 a2,2 0 0 1 2,2 V443 a2,2 0 0 1 -2,2 H1031 Z" fill="#9698a2"/>
<text x="1041" y="440.7" font-size="11" fill="#222" textLength="44.4" lengthAdjust="spacingAndGlyphs">23807.01</text>
<path d="M1031,413 H1090 a2,2 0 0 1 2,2 V428 a2,2 0 0 1 -2,2 H1031 Z" fill="#0c2a9b"/>
<text x="1041" y="425.7" font-size="11" fill="#fff" font-weight="bold" textLength="44.4" lengthAdjust="spacingAndGlyphs">23951.60</text>
<path d="M1031,397 H1090 a2,2 0 0 1 2,2 V412 a2,2 0 0 1 -2,2 H1031 Z" fill="#0c2a9b"/>
<text x="1041" y="409.7" font-size="11" fill="#fff" font-weight="bold" textLength="44.4" lengthAdjust="spacingAndGlyphs">24000.00</text>
<path d="M1031,476 H1090 a2,2 0 0 1 2,2 V491 a2,2 0 0 1 -2,2 H1031 Z" fill="#0aa83e"/>
<text x="1041" y="488.7" font-size="11" fill="#fff" font-weight="bold" textLength="44.4" lengthAdjust="spacingAndGlyphs">23124.25</text>
<path d="M1031,524 H1090 a2,2 0 0 1 2,2 V539 a2,2 0 0 1 -2,2 H1031 Z" fill="#0aa83e"/>
<text x="1041" y="536.7" font-size="11" fill="#fff" font-weight="bold" textLength="44.4" lengthAdjust="spacingAndGlyphs">22519.73</text>
<path d="M1031,508 H1090 a2,2 0 0 1 2,2 V523 a2,2 0 0 1 -2,2 H1031 Z" fill="#0aa83e"/>
<text x="1041" y="520.7" font-size="11" fill="#fff" font-weight="bold" textLength="44.4" lengthAdjust="spacingAndGlyphs">22665.25</text>
<text x="759.8" y="378.9" font-size="12" fill="#3f5bb5" textLength="35.7" lengthAdjust="spacingAndGlyphs">38.20%</text>
<text x="996" y="466" font-size="11" fill="#3f5bb5" textLength="30.4" lengthAdjust="spacingAndGlyphs">61.8%</text>
<text x="973.5" y="495.9" font-size="10" fill="#22a447" stroke="#22a447" stroke-width="0.25" textLength="51.6" lengthAdjust="spacingAndGlyphs">Sep '20 low</text>
<text x="972.7" y="538.8" font-size="10" fill="#22a447" stroke="#22a447" stroke-width="0.25" textLength="52.4" lengthAdjust="spacingAndGlyphs">May '20 low</text>
<g font-size="12" fill="#555">
<text x="18.7" y="22.1" font-size="12.5" textLength="137.7" lengthAdjust="spacingAndGlyphs">Hang Seng Index, 1D, TVC</text>
<text x="18.7" y="38.7" textLength="21.2" lengthAdjust="spacingAndGlyphs">EMA</text>
<text x="47.9" y="38.7" fill="#388e3c" textLength="47.4" lengthAdjust="spacingAndGlyphs">25471.55</text>
<text x="18.7" y="55.6" textLength="21.2" lengthAdjust="spacingAndGlyphs">EMA</text>
<text x="47.9" y="55.6" fill="#b71c1c" textLength="47.4" lengthAdjust="spacingAndGlyphs">24109.97</text>
</g>
<g font-size="16.3" fill="#0c0cff" text-anchor="middle">
<text x="771.1" y="185.7" textLength="284.2" lengthAdjust="spacingAndGlyphs">The Hang Seng found support at a 61.8%</text>
<text x="770.9" y="203.8" textLength="264" lengthAdjust="spacingAndGlyphs">Fibonacci retracement level yesterday,</text>
<text x="771.4" y="221.7" textLength="236.8" lengthAdjust="spacingAndGlyphs">and closed on the broken trendline</text>
</g>
<rect x="792" y="16" width="225" height="31.6" fill="#18232e"/>
<text transform="scale(0.925 1)" x="854.79 886.09 898.55 924.90" y="45.55" font-size="41.4" fill="#fff" stroke="#18232e" stroke-width="0.3">CITY</text>
<text transform="scale(0.935 1)" x="956.12 969.37 1001.94 1032.98 1060.71" y="45.55" font-size="41.4" fill="#f6ee1c" stroke="#18232e" stroke-width="0.3">INDEX</text>
</svg>
</body></html>
